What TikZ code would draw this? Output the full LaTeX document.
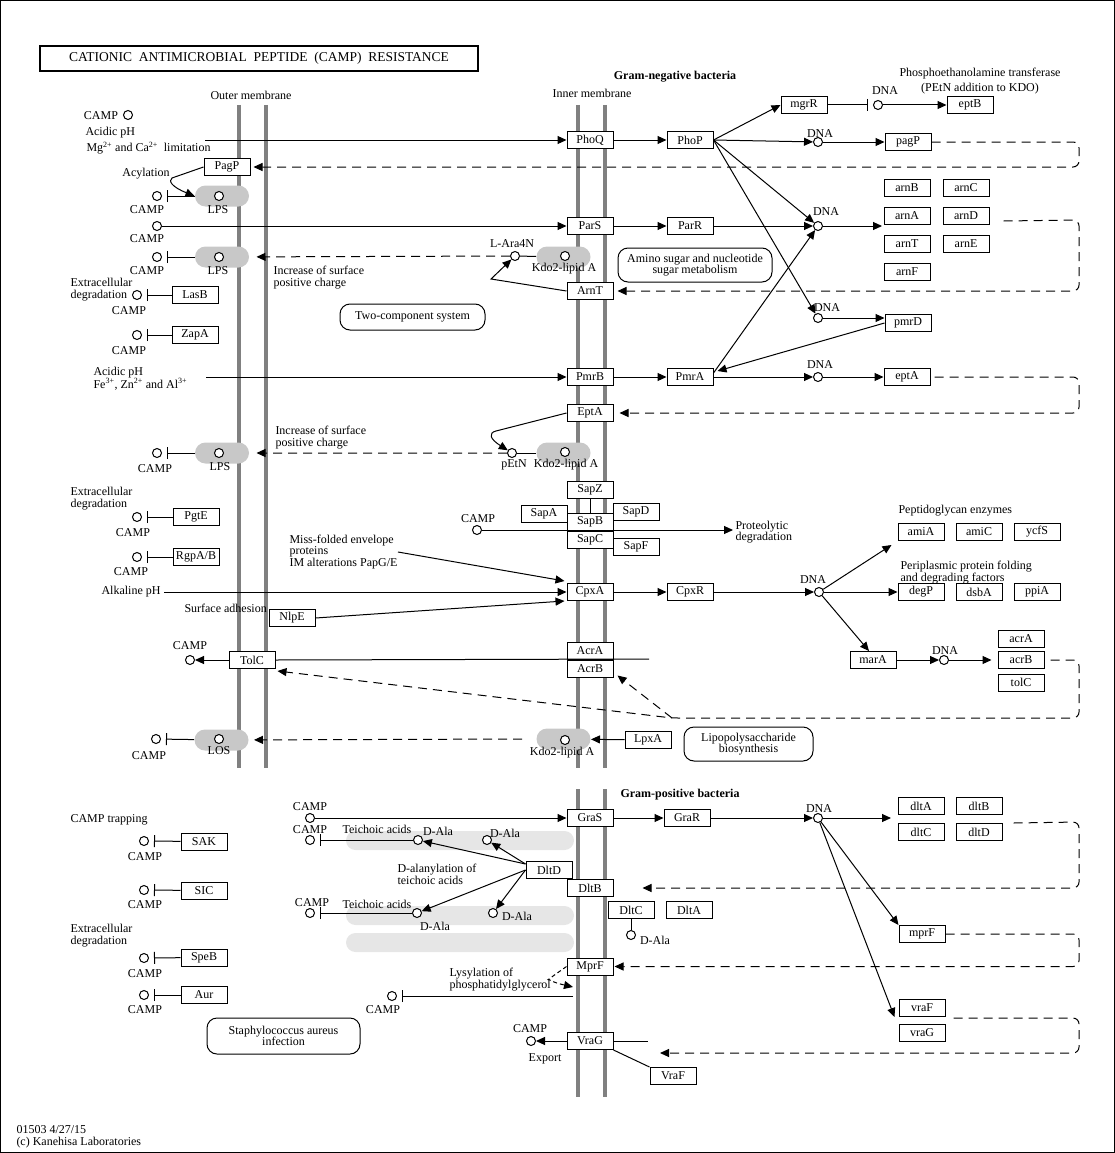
\documentclass[tikz,border=0pt]{standalone}
\usepackage{fontspec}
\setmainfont{Liberation Serif}
\usetikzlibrary{shapes.misc, positioning, arrows.meta}
\definecolor{memgray}{RGB}{128,128,128}
\definecolor{lipgray}{RGB}{200,200,200}
\definecolor{teichgray}{RGB}{230,230,230}
\newcommand{\mapfont}{\fontsize{12}{11.5}\selectfont}
\tikzstyle{gene} = [rectangle, draw=black, fill=white, minimum width=46pt, minimum height=17pt, inner sep=0pt, text centered]
\tikzstyle{cpd} = [circle, draw=black, fill=white, minimum size=9pt, inner sep=0pt]
\tikzstyle{lipid} = [rounded rectangle, fill=lipgray, minimum width=54pt, minimum height=21pt, inner sep=0pt]
\tikzstyle{teich} = [rounded rectangle, fill=teichgray, minimum width=228pt, minimum height=19pt, inner sep=0pt]
\tikzstyle{mapbox} = [rectangle, rounded corners=10pt, draw=black, align=center, inner sep=0pt]
\tikzstyle{lbl} = [inner sep=0pt, align=left]
\tikzstyle{arrow} = [-{Triangle[length=9pt,width=8pt]}]
\tikzstyle{inhib} = [-{Bar[width=12pt]}, shorten >=5pt]
\tikzstyle{indirect} = [-{Triangle[length=9pt,width=8pt]}, dash pattern=on 9pt off 6pt, rounded corners=6pt]
\tikzstyle{membrane} = [line width=4pt, draw=memgray]
\def\loopx{1079}

\begin{document}
\begin{tikzpicture}[x=1pt, y=-1pt, line width=1pt, every node/.style={font=\mapfont}]
\useasboundingbox (0,0) rectangle (1115,1153);
\draw (0.5,0.5) rectangle (1114.5,1152.5);

\node (title) [draw, line width=2pt, minimum width=438pt, minimum height=25pt, inner sep=0pt, font=\fontsize{13.5}{13.5}\selectfont] at (259,58.5) {CATIONIC\ \ ANTIMICROBIAL\ \ PEPTIDE\ \ (CAMP)\ \ RESISTANCE};

% membranes
\draw [membrane] (239,105) -- (239,768);
\draw [membrane] (266,105) -- (266,768);
\draw [membrane] (578,105) -- (578,768);
\draw [membrane] (605,105) -- (605,768);
\draw [membrane] (578,789) -- (578,1097);
\draw [membrane] (605,789) -- (605,1097);

\node (louter) [lbl] at (251,95) {Outer membrane};
\node (linner) [lbl] at (592,93) {Inner membrane};
\node (lgneg) [lbl, font=\mapfont\bfseries] at (675,77) {Gram-negative bacteria};

% PhoQ / PhoP
\node (campa) [cpd] at (128,115) {};
\node (lcampa) [lbl] at (101,116) {CAMP};
\node (lacid1) [lbl, anchor=west] at (85,133) {Acidic pH};
\node (lmg) [lbl, anchor=west] at (86,148) {Mg\textsuperscript{2+} and Ca\textsuperscript{2+}\ \ limitation};
\coordinate (sigpho) at (205,140);
\node (PhoQ) [gene] at (590,140) {PhoQ};
\node (PhoP) [gene] at (690,140) {PhoP};
\node (mgrR) [gene] at (804,105) {mgrR};
\node (dnam) [cpd] at (878,105) {};
\node (ldnam) [lbl] at (885,91) {DNA};
\node (eptB) [gene] at (970,105) {eptB};
\node (lptf) [lbl, align=center] at (980,81) {Phosphoethanolamine transferase\\[3pt](PEtN addition to KDO)};
\node (dnap) [cpd] at (818,142) {};
\node (ldnap) [lbl] at (820,134) {DNA};
\node (pagP) [gene] at (908,142) {pagP};
\node (PagP) [gene] at (227,167) {PagP};
\node (lacyl) [lbl] at (146,174) {Acylation};
\node (lps1) [lipid] at (222,196) {};
\node (clps1) [cpd] at (219,196) {};
\node (llps1) [lbl] at (218,210) {LPS};
\node (campb) [cpd] at (157,196) {};
\node (lcampb) [lbl] at (147,210) {CAMP};

\draw [arrow] (sigpho) -- (PhoQ);
\draw [arrow] (PhoQ) -- (PhoP);
\draw [arrow] (PhoP.east) -- (mgrR.west);
\draw [inhib] (mgrR) -- (dnam);
\draw [arrow] (dnam) -- (eptB);
\draw [arrow] (PhoP.east) -- (dnap);
\draw [arrow] (dnap) -- (pagP);
\draw [indirect, shorten >=3pt] (pagP.east) -- (\loopx,142) |- (PagP.east);
\draw [arrow] (PagP.west) -- (172,178) .. controls (168,181) and (172,187) .. (lps1.west);
\draw [inhib] (lps1) -- (campb);

% ParS / ParR
\node (campc) [cpd] at (157,226) {};
\node (lcampc) [lbl] at (147,239) {CAMP};
\node (ParS) [gene] at (590,226) {ParS};
\node (ParR) [gene] at (690,226) {ParR};
\node (dnaa) [cpd] at (818,226) {};
\node (ldnaa) [lbl] at (826,212) {DNA};
\coordinate (arnin) at (882,226);
\node (arnB) [gene] at (907,188) {arnB};
\node (arnC) [gene] at (966,188) {arnC};
\node (arnA) [gene, below=10pt of arnB] {arnA};
\node (arnD) [gene, below=10pt of arnC] {arnD};
\node (arnT) [gene, below=10pt of arnA] {arnT};
\node (arnE) [gene, below=10pt of arnD] {arnE};
\node (arnF) [gene, below=10pt of arnT] {arnF};
\node (ArnT) [gene] at (590,291) {ArnT};
\node (ara) [cpd] at (515,256) {};
\node (lara) [lbl] at (512,244) {L-Ara4N};
\node (kdo1) [lipid] at (563.5,257) {};
\node (ckdo1) [cpd] at (565,256) {};
\node (lkdo1) [lbl] at (564,269) {Kdo2-lipid A};
\node (lps2) [lipid] at (222,257) {};
\node (clps2) [cpd] at (219,257) {};
\node (llps2) [lbl] at (218,271) {LPS};
\node (campd) [cpd] at (157,257) {};
\node (lcampd) [lbl] at (147,271) {CAMP};
\node (linc1) [lbl, anchor=west] at (273,277.5) {Increase of surface\\positive charge};
\node (amino) [mapbox, minimum width=154pt, minimum height=34pt] at (695,265) {Amino sugar and nucleotide\\sugar metabolism};

\draw [arrow] (campc) -- (ParS);
\draw [arrow] (ParS) -- (ParR);
\draw [arrow] (ParR) -- (dnaa);
\draw [arrow] (PhoP.east) -- (dnaa);
\draw [arrow] (dnaa) -- (arnin);
\draw [indirect, shorten >=4pt] ([xshift=14pt,yshift=-5pt]arnD.east) -- (\loopx,220) |- (ArnT.east);
\draw (ara) -- (kdo1);
\draw [indirect, shorten >=7pt] (ara) -- (lps2);
\draw [arrow] (ArnT.west) -- (491,279) -- (ara);
\draw [inhib] (lps2) -- (campd);

% LasB / ZapA
\node (lextra1) [lbl, anchor=west] at (70,289.5) {Extracellular\\degradation};
\node (campe) [cpd] at (137,295) {};
\node (lcampe) [lbl] at (129,311) {CAMP};
\node (LasB) [gene] at (195,295) {LasB};
\node (campf) [cpd] at (137,335) {};
\node (lcampf) [lbl] at (129,351) {CAMP};
\node (ZapA) [gene] at (195,335) {ZapA};
\draw [inhib] (LasB) -- (campe);
\draw [inhib] (ZapA) -- (campf);
\node (twocomp) [mapbox, minimum width=145pt, minimum height=26pt] at (412.5,317) {Two-component system};

% PmrB / PmrA
\node (lacid2) [lbl, anchor=west] at (93,378.5) {Acidic pH\\Fe\textsuperscript{3+}, Zn\textsuperscript{2+} and Al\textsuperscript{3+}};
\coordinate (sigpmr) at (206,377);
\node (PmrB) [gene] at (590,377) {PmrB};
\node (PmrA) [gene] at (690,377) {PmrA};
\node (dnab) [cpd] at (818,377) {};
\node (ldnab) [lbl] at (820,365) {DNA};
\node (eptA) [gene] at (907,377) {eptA};
\node (EptA) [gene] at (590,413) {EptA};
\node (dnac) [cpd] at (818,318) {};
\node (ldnac) [lbl] at (827,308) {DNA};
\node (pmrD) [gene] at (908,323) {pmrD};

\draw [arrow] (sigpmr) -- (PmrB);
\draw [arrow] (PmrB) -- (PmrA);
\draw [arrow] (PmrA) -- (dnab);
\draw [arrow] (dnab) -- (eptA);
\draw [indirect, shorten >=6pt] ([xshift=4pt]eptA.east) -- (\loopx,377) |- (EptA.east);
\draw [arrow] (PhoP.east) -- (dnac);
\draw [arrow] (dnac) -- (dnac -| pmrD.west);
\draw [arrow] (pmrD.west) -- ([xshift=4pt,yshift=6pt]PmrA.east);
\draw [arrow] ([yshift=4pt]PmrA.east) -- (dnaa);

% LPS / pEtN
\node (lps3) [lipid] at (222,453) {};
\node (clps3) [cpd] at (219,453) {};
\node (llps3) [lbl] at (220,467) {LPS};
\node (campg) [cpd] at (157,453) {};
\node (lcampg) [lbl] at (155,469) {CAMP};
\node (linc2) [lbl, anchor=west] at (275,437.5) {Increase of surface\\positive charge};
\node (petn) [cpd] at (512,453) {};
\node (lpetn) [lbl] at (514,465) {pEtN};
\node (kdo2) [lipid] at (563.5,453) {};
\node (ckdo2) [cpd] at (565,452) {};
\node (lkdo2) [lbl] at (566,465) {Kdo2-lipid A};
\draw (petn) -- (kdo2);
\draw [indirect, shorten >=7pt] (petn) -- (lps3);
\draw [arrow] (EptA.west) -- (496,431) .. controls (488,433) and (490,439) .. (petn);
\draw [inhib] (lps3) -- (campg);

% PgtE / RgpA/B
\node (lextra2) [lbl, anchor=west] at (70,498.5) {Extracellular\\degradation};
\node (camph) [cpd] at (137,517) {};
\node (lcamph) [lbl] at (133,533) {CAMP};
\node (PgtE) [gene] at (196,517) {PgtE};
\node (campi) [cpd] at (137,557) {};
\node (lcampi) [lbl] at (131,572) {CAMP};
\node (RgpAB) [gene] at (196,557) {RgpA/B};
\draw [inhib] (PgtE) -- (camph);
\draw [inhib] (RgpAB) -- (campi);

% Sap transporter
\node (SapZ) [gene] at (590,490) {SapZ};
\node (SapB) [gene] at (590,521.5) {SapB};
\node (SapC) [gene, below=0pt of SapB] {SapC};
\node (SapA) [gene] at (544,514) {SapA};
\node (SapD) [gene] at (636,511.5) {SapD};
\node (SapF) [gene] at (636,547) {SapF};
\draw (SapZ) -- (SapB);
\node (camps) [cpd] at (477,530) {};
\node (lcamps) [lbl] at (478,519) {CAMP};
\coordinate (proteo) at (733,530);
\node (lproteo) [lbl, anchor=west] at (735,532) {Proteolytic\\degradation};
\draw [arrow] (camps) -- (proteo);

% CpxA / CpxR
\node (lmiss) [lbl, anchor=west] at (289,552) {Miss-folded envelope\\proteins\\IM alterations PapG/E};
\node (lalk) [lbl, anchor=east] at (161,592) {Alkaline pH};
\node (lsurf) [lbl, anchor=west] at (184,608) {Surface adhesion};
\node (NlpE) [gene] at (292,618) {NlpE};
\node (CpxA) [gene] at (590,592) {CpxA};
\node (CpxR) [gene] at (690,592) {CpxR};
\draw [arrow] (lmiss.east) -- ([xshift=-2pt,yshift=2pt]CpxA.north west);
\draw [arrow, shorten <=3pt] (lalk) -- (CpxA);
\draw [arrow] (NlpE.east) -- ([xshift=-2pt]CpxA.south west);
\draw [arrow] (CpxA) -- (CpxR);
\node (dnad) [cpd] at (819,592) {};
\node (ldnad) [lbl] at (813,580) {DNA};
\draw [arrow] (CpxR) -- (dnad);
\node (lpepti) [lbl, anchor=west] at (898,511) {Peptidoglycan enzymes};
\node (amiA) [gene] at (921,532) {amiA};
\node (amiC) [gene] at (979,532) {amiC};
\node (ycfS) [gene] at (1037,532) {ycfS};
\node (lperi) [lbl, anchor=west] at (900,572.5) {Periplasmic protein folding\\and degrading factors};
\node (degP) [gene] at (921,592) {degP};
\node (dsbA) [gene] at (979,592) {dsbA};
\node (ppiA) [gene] at (1037,592) {ppiA};
\node (marA) [gene] at (873,660) {marA};
\node (dnae) [cpd] at (944,660) {};
\node (ldnae) [lbl] at (945,651) {DNA};
\node (acrA) [gene] at (1021,638.5) {acrA};
\node (acrB) [gene] at (1021,660) {acrB};
\node (tolC) [gene] at (1021,682.5) {tolC};
\draw [arrow] (dnad) -- ([xshift=-6pt,yshift=-4pt]amiA.south west);
\draw [arrow] (dnad) -- (degP);
\draw [arrow] (dnad) -- ([xshift=-4pt]marA.north);
\draw [arrow] (marA) -- (dnae);
\draw [arrow, shorten >=6pt] (dnae) -- (acrB);

% TolC / AcrA / AcrB
\node (AcrA) [gene] at (590,650.5) {AcrA};
\node (AcrB) [gene, below=0pt of AcrA] {AcrB};
\node (TolC) [gene] at (252,660) {TolC};
\node (campj) [cpd] at (190,660) {};
\node (lcampj) [lbl] at (190,646) {CAMP};
\coordinate (acrend) at (649,659);
\coordinate (acrj) at (672,718);
\draw (TolC.east) -- (acrend);
\draw [arrow] (TolC) -- (campj);
\draw [indirect] ([xshift=6pt]acrB.east) -- (\loopx,660) |- (acrj) -- ([xshift=2pt,yshift=-2pt]TolC.south east);
\draw [indirect] (acrj) -- ([xshift=4pt,yshift=2pt]AcrB.south east);

% LOS / LpxA
\node (los) [lipid] at (221.5,740) {};
\node (clos) [cpd] at (219,739) {};
\node (llos) [lbl] at (219,751) {LOS};
\node (campk) [cpd] at (156,739) {};
\node (lcampk) [lbl] at (149,756) {CAMP};
\node (kdo3) [lipid] at (563.5,739) {};
\node (ckdo3) [cpd] at (565,740) {};
\node (lkdo3) [lbl] at (562,753) {Kdo2-lipid A};
\node (LpxA) [gene] at (648,740) {LpxA};
\node (lpsbio) [mapbox, minimum width=129pt, minimum height=34pt] at (748.5,744) {Lipopolysaccharide\\biosynthesis};
\draw [arrow] (LpxA) -- (kdo3);
\draw [indirect, shorten >=5pt] ([xshift=-14pt]kdo3.west) -- (los);
\draw [inhib] (los) -- (campk);

% Gram-positive: GraS / GraR
\node (lgpos) [lbl, font=\mapfont\bfseries] at (680,795) {Gram-positive bacteria};
\node (campl) [cpd] at (310,818) {};
\node (lcampl) [lbl] at (310,807) {CAMP};
\node (GraS) [gene] at (590,818) {GraS};
\node (GraR) [gene] at (687,818) {GraR};
\node (dnaf) [cpd] at (818,818) {};
\node (ldnaf) [lbl] at (819,809) {DNA};
\coordinate (dltin) at (891,818);
\node (dltA) [gene] at (921,806) {dltA};
\node (dltB) [gene] at (979,806) {dltB};
\node (dltC) [gene, below=8pt of dltA] {dltC};
\node (dltD) [gene, below=8pt of dltB] {dltD};
\node (mprF) [gene] at (922,934) {mprF};
\node (vraF) [gene] at (922,1008) {vraF};
\node (vraG) [gene, below=7pt of vraF] {vraG};
\node (DltB) [gene] at (590,888) {DltB};
\node (MprF) [gene] at (590,966.5) {MprF};
\node (VraG) [gene] at (590,1041) {VraG};
\node (VraF) [gene] at (673,1076) {VraF};
\coordinate (vrain) at (660,1053);
\draw [arrow] (campl) -- (GraS);
\draw [arrow] (GraS) -- (GraR);
\draw [arrow] (GraR) -- (dnaf);
\draw [arrow] (dnaf) -- (dltin);
\draw [arrow] (dnaf) -- (mprF.north west);
\draw [arrow] (dnaf) -- ([xshift=-4pt]vraF.south west);
\draw [indirect, shorten >=29pt] ([xshift=11pt,yshift=9pt]dltD.east) -- (\loopx,822) |- (DltB.east);
\draw [indirect, shorten >=1pt] (mprF.east) -- (\loopx,934) |- (MprF.east);
\draw [indirect] ([xshift=8pt,yshift=-10pt]vraF.east) -- (\loopx,1018) |- (vrain);

% teichoic acids
\node (teich1) [teich] at (460,840.5) {};
\node (teich2) [teich] at (460,915.5) {};
\node (teich3) [teich] at (460,942.5) {};
\node (campm) [cpd] at (310,840) {};
\node (lcampm) [lbl] at (310,830) {CAMP};
\node (lteich1) [lbl] at (377,829) {Teichoic acids};
\node (dala1) [cpd] at (418,840) {};
\node (ldala1) [lbl] at (438,831) {D-Ala};
\node (dala2) [cpd] at (487,840) {};
\node (ldala2) [lbl] at (505,833) {D-Ala};
\node (campn) [cpd] at (310,913) {};
\node (lcampn) [lbl] at (312,903) {CAMP};
\node (lteich2) [lbl] at (377,904) {Teichoic acids};
\node (dala3) [cpd] at (417,913) {};
\node (ldala3) [lbl] at (435,926) {D-Ala};
\node (dala4) [cpd] at (493,913) {};
\node (ldala4) [lbl] at (517,916) {D-Ala};
\node (DltD) [gene] at (549,870) {DltD};
\node (ldalan) [lbl, anchor=west] at (397,874.5) {D-alanylation of\\teichoic acids};
\draw [inhib] (dala1) -- (campm);
\draw [inhib] (dala3) -- (campn);
\draw [arrow] ([yshift=6pt]DltD.west) -- (dala1);
\draw [arrow] ([yshift=6pt]DltD.west) -- (dala2);
\draw [arrow] (DltD.west) -- (dala3);
\draw [arrow] (DltD.west) -- (dala4);
\node (DltC) [gene] at (631,910) {DltC};
\node (DltA) [gene] at (689,910) {DltA};
\node (dala5) [cpd] at (631,935) {};
\node (ldala5) [lbl] at (655,940) {D-Ala};
\draw (DltC) -- (dala5);

% MprF / VraG
\node (llys) [lbl, anchor=west] at (449,979.5) {Lysylation of\\phosphatidylglycerol};
\coordinate (lysend) at (573,987);
\draw [indirect, dash pattern=on 4pt off 3pt] (MprF.west) -- (553,976) .. controls (549,979) and (551,982) .. (lysend);
\coordinate (lysmem) at (573,996);
\node (campo) [cpd] at (392,996) {};
\node (lcampo) [lbl] at (383,1010) {CAMP};
\draw [inhib] (lysmem) -- (campo);
\node (campp) [cpd] at (531,1041) {};
\node (lcampp) [lbl] at (530,1029) {CAMP};
\node (lexport) [lbl] at (545,1059) {Export};
\coordinate (vraend) at (648,1041);
\draw [arrow] (VraG) -- (campp);
\draw (VraG.east) -- (vraend);
\draw (VraG.south east) -- (VraF.north west);

% Staphylococcus
\node (ltrap) [lbl, anchor=west] at (70,820) {CAMP trapping};
\node (campq) [cpd] at (144,841) {};
\node (lcampq) [lbl] at (145,857) {CAMP};
\node (SAK) [gene] at (204,841.5) {SAK};
\node (campr) [cpd] at (144,890) {};
\node (lcampr) [lbl] at (145,905) {CAMP};
\node (SIC) [gene] at (204,890.5) {SIC};
\node (lextra3) [lbl, anchor=west] at (70,935.5) {Extracellular\\degradation};
\node (campt) [cpd] at (144,958) {};
\node (lcampt) [lbl] at (145,974) {CAMP};
\node (SpeB) [gene] at (204,957.5) {SpeB};
\node (campu) [cpd] at (144,995) {};
\node (lcampu) [lbl] at (145,1010) {CAMP};
\node (Aur) [gene] at (204,995) {Aur};
\draw [inhib] (SAK) -- (campq);
\draw [inhib] (SIC) -- (campr);
\draw [inhib] (SpeB) -- (campt);
\draw [inhib] (Aur) -- (campu);
\node (staph) [mapbox, minimum width=153pt, minimum height=36pt] at (283.5,1036) {Staphylococcus aureus\\infection};

\node (lid) [lbl, anchor=west] at (16,1137) {01503 4/27/15\\(c) Kanehisa Laboratories};

\end{tikzpicture}
\end{document}
